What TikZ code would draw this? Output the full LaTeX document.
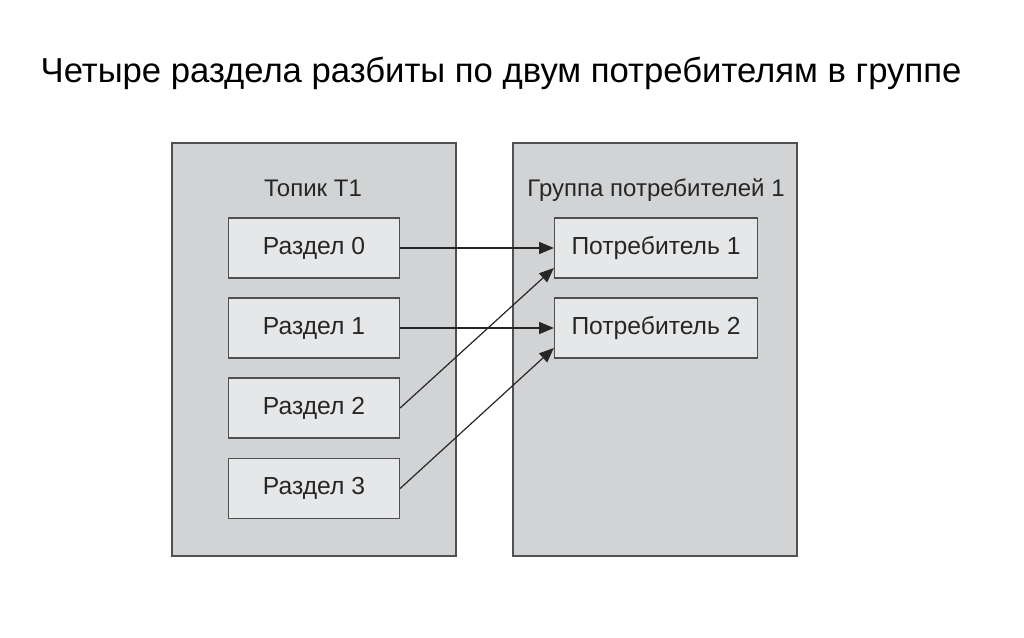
\documentclass[tikz,border=0pt]{standalone}
\usepackage{fontspec}
\setmainfont{Liberation Sans}
\usetikzlibrary{arrows.meta,positioning}
\definecolor{outerbg}{HTML}{D2D3D5}
\definecolor{innerbg}{HTML}{E6E7E8}
\definecolor{edge}{HTML}{505050}

\begin{document}
\begin{tikzpicture}[
  x=0.75pt, y=-0.75pt,
  group/.style={draw=edge, fill=outerbg, line width=1.5pt, minimum width=213pt, minimum height=310pt},
  part/.style={draw=edge, fill=innerbg, line width=1.2pt, minimum width=128pt, minimum height=45pt,
               font=\fontsize{18.5}{20}\selectfont, text=black!85},
  cons/.style={part, minimum width=152pt},
  head/.style={font=\fontsize{18}{20}\selectfont, text=black!85},
  arr/.style={-{Triangle[length=11pt,width=9pt]}, line width=0.9pt, black!85}
]
  \useasboundingbox (0,0) rectangle (1024,638);

  \node[font=\fontsize{26}{28}\selectfont] (title) at (501,73) {Четыре раздела разбиты по двум потребителям в группе};

  \node[group] (topic) at (313.5,349.5) {};
  \node[group] (grp) at (655,349.5) {};

  \node[head] (topichead) at (313,188) {Топик T1};
  \node[head] (grphead) at (656,190) {Группа потребителей 1};

  \node[part] (p0) at (314,248) {Раздел 0};
  \node[part] (p1) at (314,328) {Раздел 1};
  \node[part] (p2) at (314,408) {Раздел 2};
  \node[part] (p3) at (314,488.5) {Раздел 3};

  \node[cons] (c1) at (656,248) {Потребитель 1};
  \node[cons] (c2) at (656,328) {Потребитель 2};

  \draw[arr] (p0.east) -- (c1.west);
  \draw[arr] (p1.east) -- (c2.west);
  \draw[arr] (p2.east) -- ([yshift=-15pt]c1.west);
  \draw[arr] (p3.east) -- ([yshift=-15pt]c2.west);
\end{tikzpicture}
\end{document}
